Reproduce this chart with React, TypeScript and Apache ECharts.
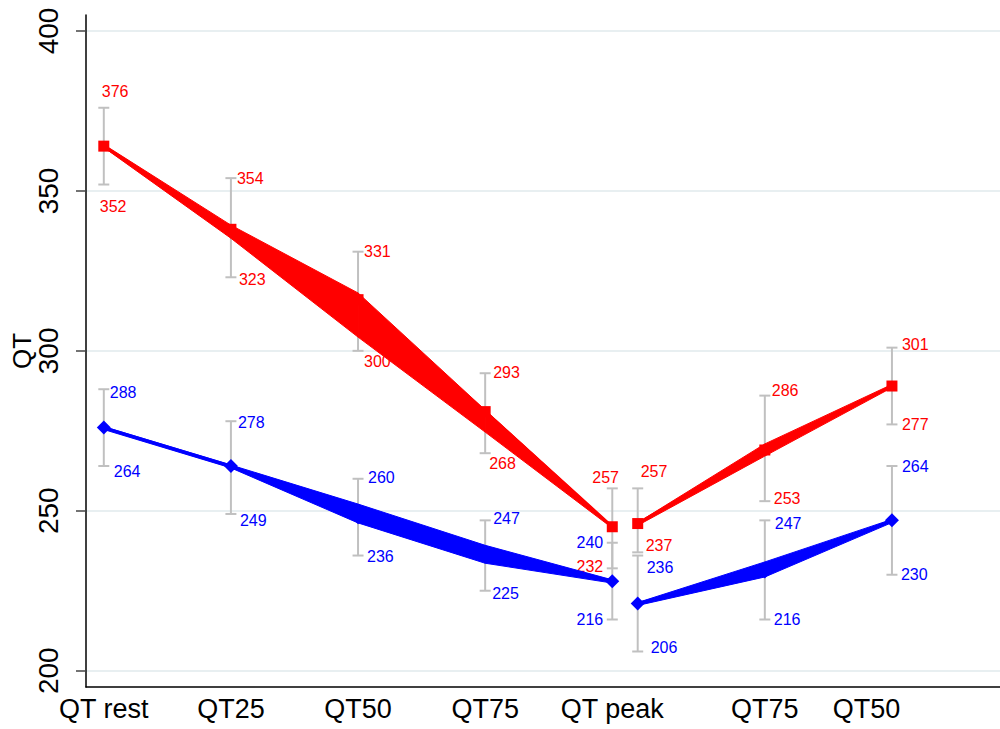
import React, { useEffect, useRef } from "react";
import * as echarts from "echarts";

const FONT = '"Liberation Sans", Arial, Helvetica, sans-serif';

const xTickPositions = [1, 2, 3, 4, 5, 6.2, 7];
const xTickLabels = ["QT rest", "QT25", "QT50", "QT75", "QT peak", "QT75", "QT50"];
const yTicks = [200, 250, 300, 350, 400];

const xPositions = [1, 2, 3, 4, 5, 5.2, 6.2, 7.2];
const redMean = [364, 338, 316, 281, 245, 246, 269, 289];
const redUpper = [376, 354, 331, 293, 257, 257, 286, 301];
const redLower = [352, 323, 300, 268, 232, 237, 253, 277];
const blueMean = [276, 264, 248, 236, 228, 221, 231, 247];
const blueUpper = [288, 278, 260, 247, 240, 236, 247, 264];
const blueLower = [264, 249, 236, 225, 216, 206, 216, 230];

// edges of the tapered band drawn along each mean line
const redBandTop = [364.5, 339.3, 318.1, 281.5, 245.2, 246.3, 270.9, 289.5];
const redBandBottom = [363.6, 335.2, 304.3, 274.6, 244.6, 245.4, 267.1, 288.5];
const blueBandTop = [276.3, 264.3, 252.1, 239.2, 228.4, 221.3, 234.0, 247.3];
const blueBandBottom = [275.4, 263.4, 246.2, 233.6, 227.4, 220.4, 229.3, 246.3];

// first and last index of each connected part
const parts = [
  [0, 4],
  [5, 7],
];

// label placement [dx, dy, align] relative to the cap
const redUpperLabelPos: any[] = [
  [-2, -16, "left"], [6, 0, "left"], [6, 0, "left"], [8, -1, "left"],
  [-20, -11, "left"], [3, -17, "left"], [7, -5, "left"], [10, -3, "left"],
];
const redLowerLabelPos: any[] = [
  [-4, 22, "left"], [8, 2, "left"], [6, 11, "left"], [4, 10, "left"],
  [-9, -2, "right"], [8, -7, "left"], [9, -3, "left"], [10, 0, "left"],
];
const blueUpperLabelPos: any[] = [
  [6, 3, "left"], [7, 1, "left"], [10, -1, "left"], [8, -2, "left"],
  [-9, 0, "right"], [9, 12, "left"], [10, 3, "left"], [10, 1, "left"],
];
const blueLowerLabelPos: any[] = [
  [10, 6, "left"], [9, 7, "left"], [9, 1, "left"], [7, 3, "left"],
  [-9, 0, "right"], [13, -4, "left"], [9, 0, "left"], [9, 0, "left"],
];

const RED = "#ff0000";
const BLUE = "#0000ff";
const BAR = "#c0c0c0";

function errorBarSeries(upper: number[], lower: number[], color: string, upPos: any[], loPos: any[]) {
  return {
    type: "custom",
    z: 1,
    clip: false,
    data: xPositions.map((x, i) => [x, lower[i], upper[i]]),
    encode: { x: 0, y: [1, 2] },
    renderItem: (params: any, api: any) => {
      const i = params.dataIndex;
      const x = api.value(0);
      const lo = api.value(1);
      const hi = api.value(2);
      const top = api.coord([x, hi]);
      const bot = api.coord([x, lo]);
      const cap = 5.5;
      const ls = { stroke: BAR, lineWidth: 2 };
      const up = upPos[i];
      const dn = loPos[i];
      return {
        type: "group",
        children: [
          { type: "line", shape: { x1: top[0], y1: top[1], x2: bot[0], y2: bot[1] }, style: ls },
          { type: "line", shape: { x1: top[0] - cap, y1: top[1], x2: top[0] + cap, y2: top[1] }, style: ls },
          { type: "line", shape: { x1: bot[0] - cap, y1: bot[1], x2: bot[0] + cap, y2: bot[1] }, style: ls },
          {
            type: "text",
            style: {
              text: String(hi), x: top[0] + up[0], y: top[1] + up[1], fill: color,
              fontSize: 16, fontFamily: FONT, align: up[2], verticalAlign: "middle",
            },
          },
          {
            type: "text",
            style: {
              text: String(lo), x: bot[0] + dn[0], y: bot[1] + dn[1], fill: color,
              fontSize: 16, fontFamily: FONT, align: dn[2], verticalAlign: "middle",
            },
          },
        ],
      };
    },
  };
}

function bandSeries(top: number[], bottom: number[], color: string) {
  const data: number[][] = [];
  parts.forEach(([a, b]) => {
    for (let i = a; i < b; i++) {
      data.push([xPositions[i], top[i], bottom[i], xPositions[i + 1], top[i + 1], bottom[i + 1]]);
    }
  });
  return {
    type: "custom",
    z: 2,
    data,
    encode: { x: [0, 3], y: [1, 2, 4, 5] },
    renderItem: (_params: any, api: any) => {
      const p1u = api.coord([api.value(0), api.value(1)]);
      const p1l = api.coord([api.value(0), api.value(2)]);
      const p2u = api.coord([api.value(3), api.value(4)]);
      const p2l = api.coord([api.value(3), api.value(5)]);
      return {
        type: "polygon",
        shape: { points: [p1u, p2u, p2l, p1l] },
        style: { fill: color, stroke: color, lineWidth: 1 },
      };
    },
  };
}

function lineSeries(mean: number[], color: string, symbol: string, size: number) {
  return parts.map(([a, b]) => ({
    type: "line",
    z: 3,
    data: xPositions.slice(a, b + 1).map((x, k) => [x, mean[a + k]]),
    symbol,
    symbolSize: size,
    showSymbol: true,
    itemStyle: { color },
    lineStyle: { color, width: 3 },
  }));
}

export default function App() {
  const ref = useRef<HTMLDivElement>(null);
  useEffect(() => {
    if (!ref.current) return;
    const chart = echarts.init(ref.current, null, { renderer: "svg" });
    chart.setOption({
      animation: false,
      backgroundColor: "#ffffff",
      grid: { left: 86, right: 0, top: 15, bottom: 42, containLabel: false, outerBoundsMode: "none" },
      xAxis: {
        type: "value",
        min: 0.86,
        max: 8.05,
        axisLine: { show: true, onZero: false, lineStyle: { color: "#000", width: 1.5 } },
        axisTick: { show: false },
        splitLine: { show: false },
        axisLabel: {
          customValues: xTickPositions,
          formatter: (v: number) => {
            const i = xTickPositions.findIndex((p) => Math.abs(p - v) < 1e-6);
            return i >= 0 ? xTickLabels[i] : "";
          },
          fontSize: 27,
          fontFamily: FONT,
          color: "#000",
          margin: 8,
        },
      },
      yAxis: {
        type: "value",
        min: 194.9,
        max: 405,
        name: "QT",
        nameLocation: "middle",
        nameGap: 51,
        nameMoveOverlap: false,
        nameTextStyle: { fontSize: 26, fontFamily: FONT, color: "#000" },
        axisLine: { show: true, lineStyle: { color: "#000", width: 1.5 } },
        axisTick: { show: true, length: 10, customValues: yTicks, lineStyle: { color: "#444", width: 1.5 } },
        axisLabel: {
          customValues: yTicks,
          rotate: 90,
          fontSize: 28,
          fontFamily: FONT,
          color: "#000",
          margin: 24,
        },
        splitLine: { show: true, lineStyle: { color: "#e8eff1", width: 2 } },
      },
      series: [
        errorBarSeries(redUpper, redLower, RED, redUpperLabelPos, redLowerLabelPos),
        errorBarSeries(blueUpper, blueLower, BLUE, blueUpperLabelPos, blueLowerLabelPos),
        bandSeries(redBandTop, redBandBottom, RED),
        bandSeries(blueBandTop, blueBandBottom, BLUE),
        ...lineSeries(redMean, RED, "rect", 11),
        ...lineSeries(blueMean, BLUE, "diamond", 14),
      ],
    });
    return () => chart.dispose();
  }, []);
  return (
    <div
      ref={ref}
      style={{ position: "fixed", left: 0, top: 0, width: "1000px", height: "729px", background: "#fff" }}
    />
  );
}
